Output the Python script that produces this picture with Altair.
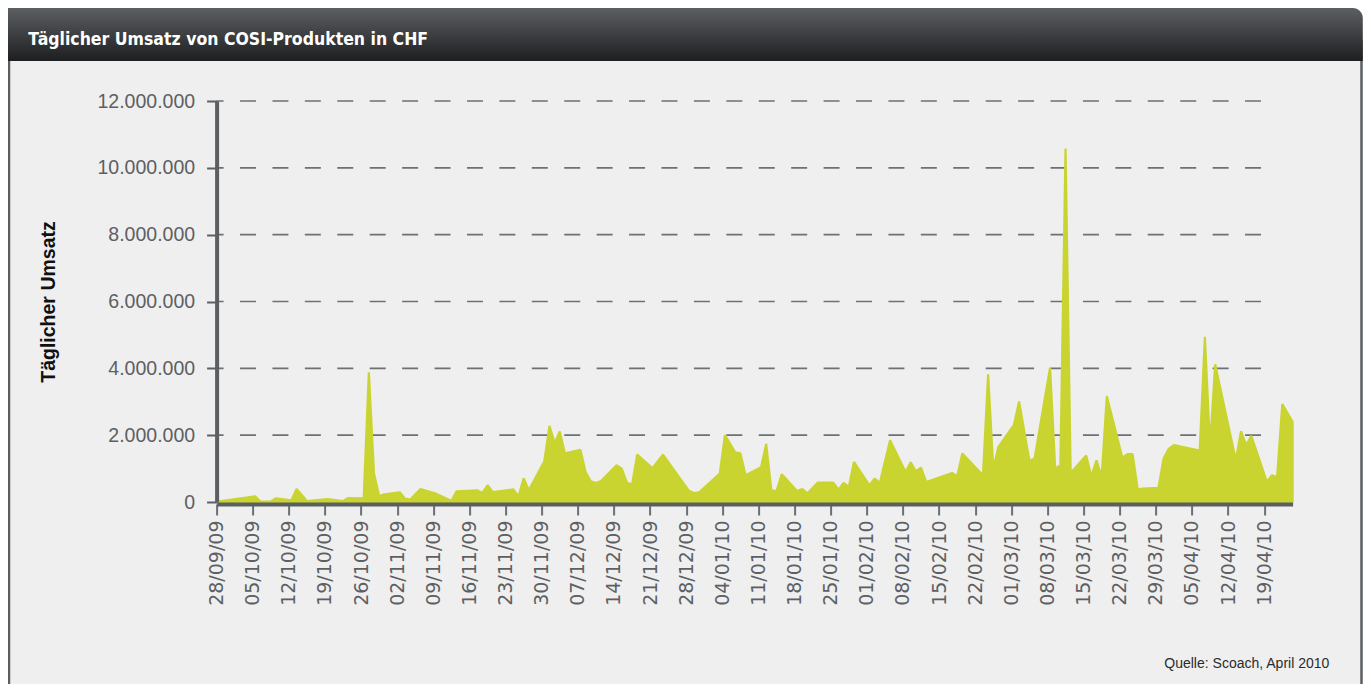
import altair as alt
import pandas as pd

# ---------------- data ----------------
dates = [
    "2009-09-28", "2009-10-05", "2009-10-06", "2009-10-08", "2009-10-09", "2009-10-12", "2009-10-13",
    "2009-10-15", "2009-10-19", "2009-10-22", "2009-10-23", "2009-10-26", "2009-10-27", "2009-10-28",
    "2009-10-29", "2009-10-30", "2009-11-02", "2009-11-03", "2009-11-04", "2009-11-06", "2009-11-09",
    "2009-11-12", "2009-11-13", "2009-11-17", "2009-11-18", "2009-11-19", "2009-11-20", "2009-11-24",
    "2009-11-25", "2009-11-26", "2009-11-27", "2009-11-30", "2009-12-01", "2009-12-02", "2009-12-03",
    "2009-12-04", "2009-12-07", "2009-12-08", "2009-12-09", "2009-12-10", "2009-12-11", "2009-12-14",
    "2009-12-15", "2009-12-16", "2009-12-17", "2009-12-18", "2009-12-21", "2009-12-22", "2009-12-23",
    "2009-12-28", "2009-12-29", "2009-12-30", "2010-01-03", "2010-01-04", "2010-01-06", "2010-01-07",
    "2010-01-08", "2010-01-11", "2010-01-12", "2010-01-13", "2010-01-14", "2010-01-15", "2010-01-18",
    "2010-01-19", "2010-01-20", "2010-01-22", "2010-01-25", "2010-01-26", "2010-01-27", "2010-01-28",
    "2010-01-29", "2010-02-01", "2010-02-02", "2010-02-03", "2010-02-05", "2010-02-08", "2010-02-09",
    "2010-02-10", "2010-02-11", "2010-02-12", "2010-02-17", "2010-02-18", "2010-02-19", "2010-02-23",
    "2010-02-24", "2010-02-25", "2010-02-26", "2010-03-01", "2010-03-02", "2010-03-04", "2010-03-05",
    "2010-03-08", "2010-03-09", "2010-03-10", "2010-03-11", "2010-03-12", "2010-03-15", "2010-03-16",
    "2010-03-17", "2010-03-18", "2010-03-19", "2010-03-22", "2010-03-23", "2010-03-24", "2010-03-25",
    "2010-03-26", "2010-03-29", "2010-03-30", "2010-03-31", "2010-04-01", "2010-04-06", "2010-04-07",
    "2010-04-08", "2010-04-09", "2010-04-13", "2010-04-14", "2010-04-15", "2010-04-16", "2010-04-19",
    "2010-04-20", "2010-04-21", "2010-04-22", "2010-04-24",
]
umsatz = [
    20000, 170000, 10000, 20000, 110000, 50000, 390000,
    30000, 90000, 30000, 120000, 110000, 3880000, 850000,
    180000, 230000, 290000, 100000, 70000, 390000, 250000,
    40000, 320000, 350000, 270000, 500000, 300000, 380000,
    170000, 710000, 350000, 1220000, 2280000, 1760000, 2110000,
    1460000, 1560000, 900000, 620000, 570000, 630000, 1100000,
    1000000, 580000, 520000, 1420000, 1010000, 1220000, 1420000,
    340000, 270000, 290000, 850000, 2000000, 1490000, 1460000,
    800000, 1040000, 1740000, 350000, 330000, 830000, 330000,
    390000, 260000, 580000, 580000, 370000, 570000, 450000,
    1200000, 500000, 700000, 570000, 1850000, 900000, 1190000,
    920000, 1030000, 600000, 870000, 770000, 1450000, 800000,
    3820000, 1000000, 1650000, 2310000, 3010000, 1240000, 1300000,
    4020000, 1000000, 1100000, 10580000, 870000, 1390000, 770000,
    1250000, 750000, 3170000, 1330000, 1430000, 1430000, 370000,
    400000, 420000, 1300000, 1590000, 1700000, 1540000, 4940000,
    1650000, 4120000, 1250000, 2120000, 1700000, 1980000, 610000,
    800000, 750000, 2930000, 2400000,
]
tick_dates = [
    "2009-09-28", "2009-10-05", "2009-10-12", "2009-10-19", "2009-10-26", "2009-11-02",
    "2009-11-09", "2009-11-16", "2009-11-23", "2009-11-30", "2009-12-07", "2009-12-14",
    "2009-12-21", "2009-12-28", "2010-01-04", "2010-01-11", "2010-01-18", "2010-01-25",
    "2010-02-01", "2010-02-08", "2010-02-15", "2010-02-22", "2010-03-01", "2010-03-08",
    "2010-03-15", "2010-03-22", "2010-03-29", "2010-04-05", "2010-04-12", "2010-04-19",
]
y_ticks = [0, 2000000, 4000000, 6000000, 8000000, 10000000, 12000000]

title_text = "Täglicher Umsatz von COSI-Produkten in CHF"
y_title = "Täglicher Umsatz"
source_text = "Quelle: Scoach, April 2010"

# ---------------- build ----------------
df = pd.DataFrame({"datum": pd.to_datetime(dates) + pd.Timedelta(hours=12), "umsatz": umsatz})
grid_df = pd.DataFrame({"umsatz": y_ticks[1:]})


def dt(s, hours=0):
    t = pd.Timestamp(s)
    return alt.DateTime(year=t.year, month=t.month, date=t.day, hours=hours)


W, H = 1076, 401
AXIS_GREY = "#5b5f62"
LABEL_GREY = "#5d6063"
AREA_GREEN = "#c9d430"

x_scale = alt.Scale(domain=[dt(tick_dates[0]), dt("2010-04-24", 12)])
y_scale = alt.Scale(domain=[0, 12000000], nice=False)

x_axis = alt.Axis(
    values=[dt(s) for s in tick_dates], format="%d/%m/%y", labelAngle=270,
    title=None, grid=False, domainColor=AXIS_GREY, domainWidth=4, offset=2,
    tickColor="#6b6f72", tickWidth=2, tickSize=11,
    labelFont="DejaVu Sans", labelFontSize=19, labelColor=LABEL_GREY,
    labelPadding=5, labelOverlap=False, zindex=1,
)
y_axis = alt.Axis(
    values=y_ticks,
    labelExpr="replace(replace(format(datum.value, ','), ',', '.'), ',', '.')",
    grid=False, domainColor=AXIS_GREY, domainWidth=4,
    tickColor=AXIS_GREY, tickWidth=2, tickSize=10,
    labelFont="Liberation Sans", labelFontSize=19.5, labelColor=LABEL_GREY, labelPadding=12,
    title=y_title, titleFont="Liberation Sans", titleFontSize=19.5, titleFontWeight="bold",
    titleColor="#111111", titleAngle=270, titleX=-168.6, titleY=200.5,
    titleAlign="center", titleBaseline="middle", zindex=1,
)
y_enc = alt.Y("umsatz:Q", scale=y_scale, axis=y_axis)

one = alt.Data(values=[{}])

panel = alt.Chart(one).mark_rect(fill="#efefef", stroke=AXIS_GREY, strokeWidth=2.5).encode(
    x=alt.value(-207.6), x2=alt.value(1144.9), y=alt.value(-60), y2=alt.value(620)
)

bar = alt.Chart(one).mark_rect(
    color=alt.Gradient(
        gradient="linear",
        stops=[alt.GradientStop(color="#5c5f62", offset=0), alt.GradientStop(color="#1d1e20", offset=1)],
        x1=0, x2=0, y1=0, y2=1,
    ),
    cornerRadiusTopRight=10,
).encode(x=alt.value(-210), x2=alt.value(1146.2), y=alt.value(-93), y2=alt.value(-40))

title = alt.Chart(one).mark_text(
    text=title_text, font="Liberation Sans Narrow, DejaVu Sans Condensed, Liberation Sans",
    fontSize=17.5, fontWeight="bold", color="white", align="left", baseline="alphabetic",
).encode(x=alt.value(-188.3), y=alt.value(-56.3))

grid = alt.Chart(grid_df).mark_rule(
    color="#6d7174", strokeWidth=1.6, strokeDash=[16, 16.42], strokeDashOffset=9
).encode(y=y_enc, x=alt.value(0), x2=alt.value(1046))

area = alt.Chart(df).mark_area(
    color=AREA_GREEN, stroke=AREA_GREEN, strokeWidth=2.2, strokeJoin="bevel", interpolate="linear"
).encode(
    x=alt.X("datum:T", scale=x_scale, axis=x_axis),
    y=y_enc,
)

source = alt.Chart(one).mark_text(
    text=source_text, font="Liberation Sans", fontSize=14, color="#2b2b2b",
    align="right", baseline="alphabetic",
).encode(x=alt.value(1112.7), y=alt.value(567.3))

chart = alt.layer(panel, bar, title, grid, area, source).properties(
    width=W, height=H,
    autosize=alt.AutoSizeParams(type="none"),
    padding={"left": 208.6, "top": 93, "right": 70.4, "bottom": 182},
    background="white",
).configure_view(stroke=None)

chart.save("out.html", embed_options={"renderer": "svg", "actions": False})
